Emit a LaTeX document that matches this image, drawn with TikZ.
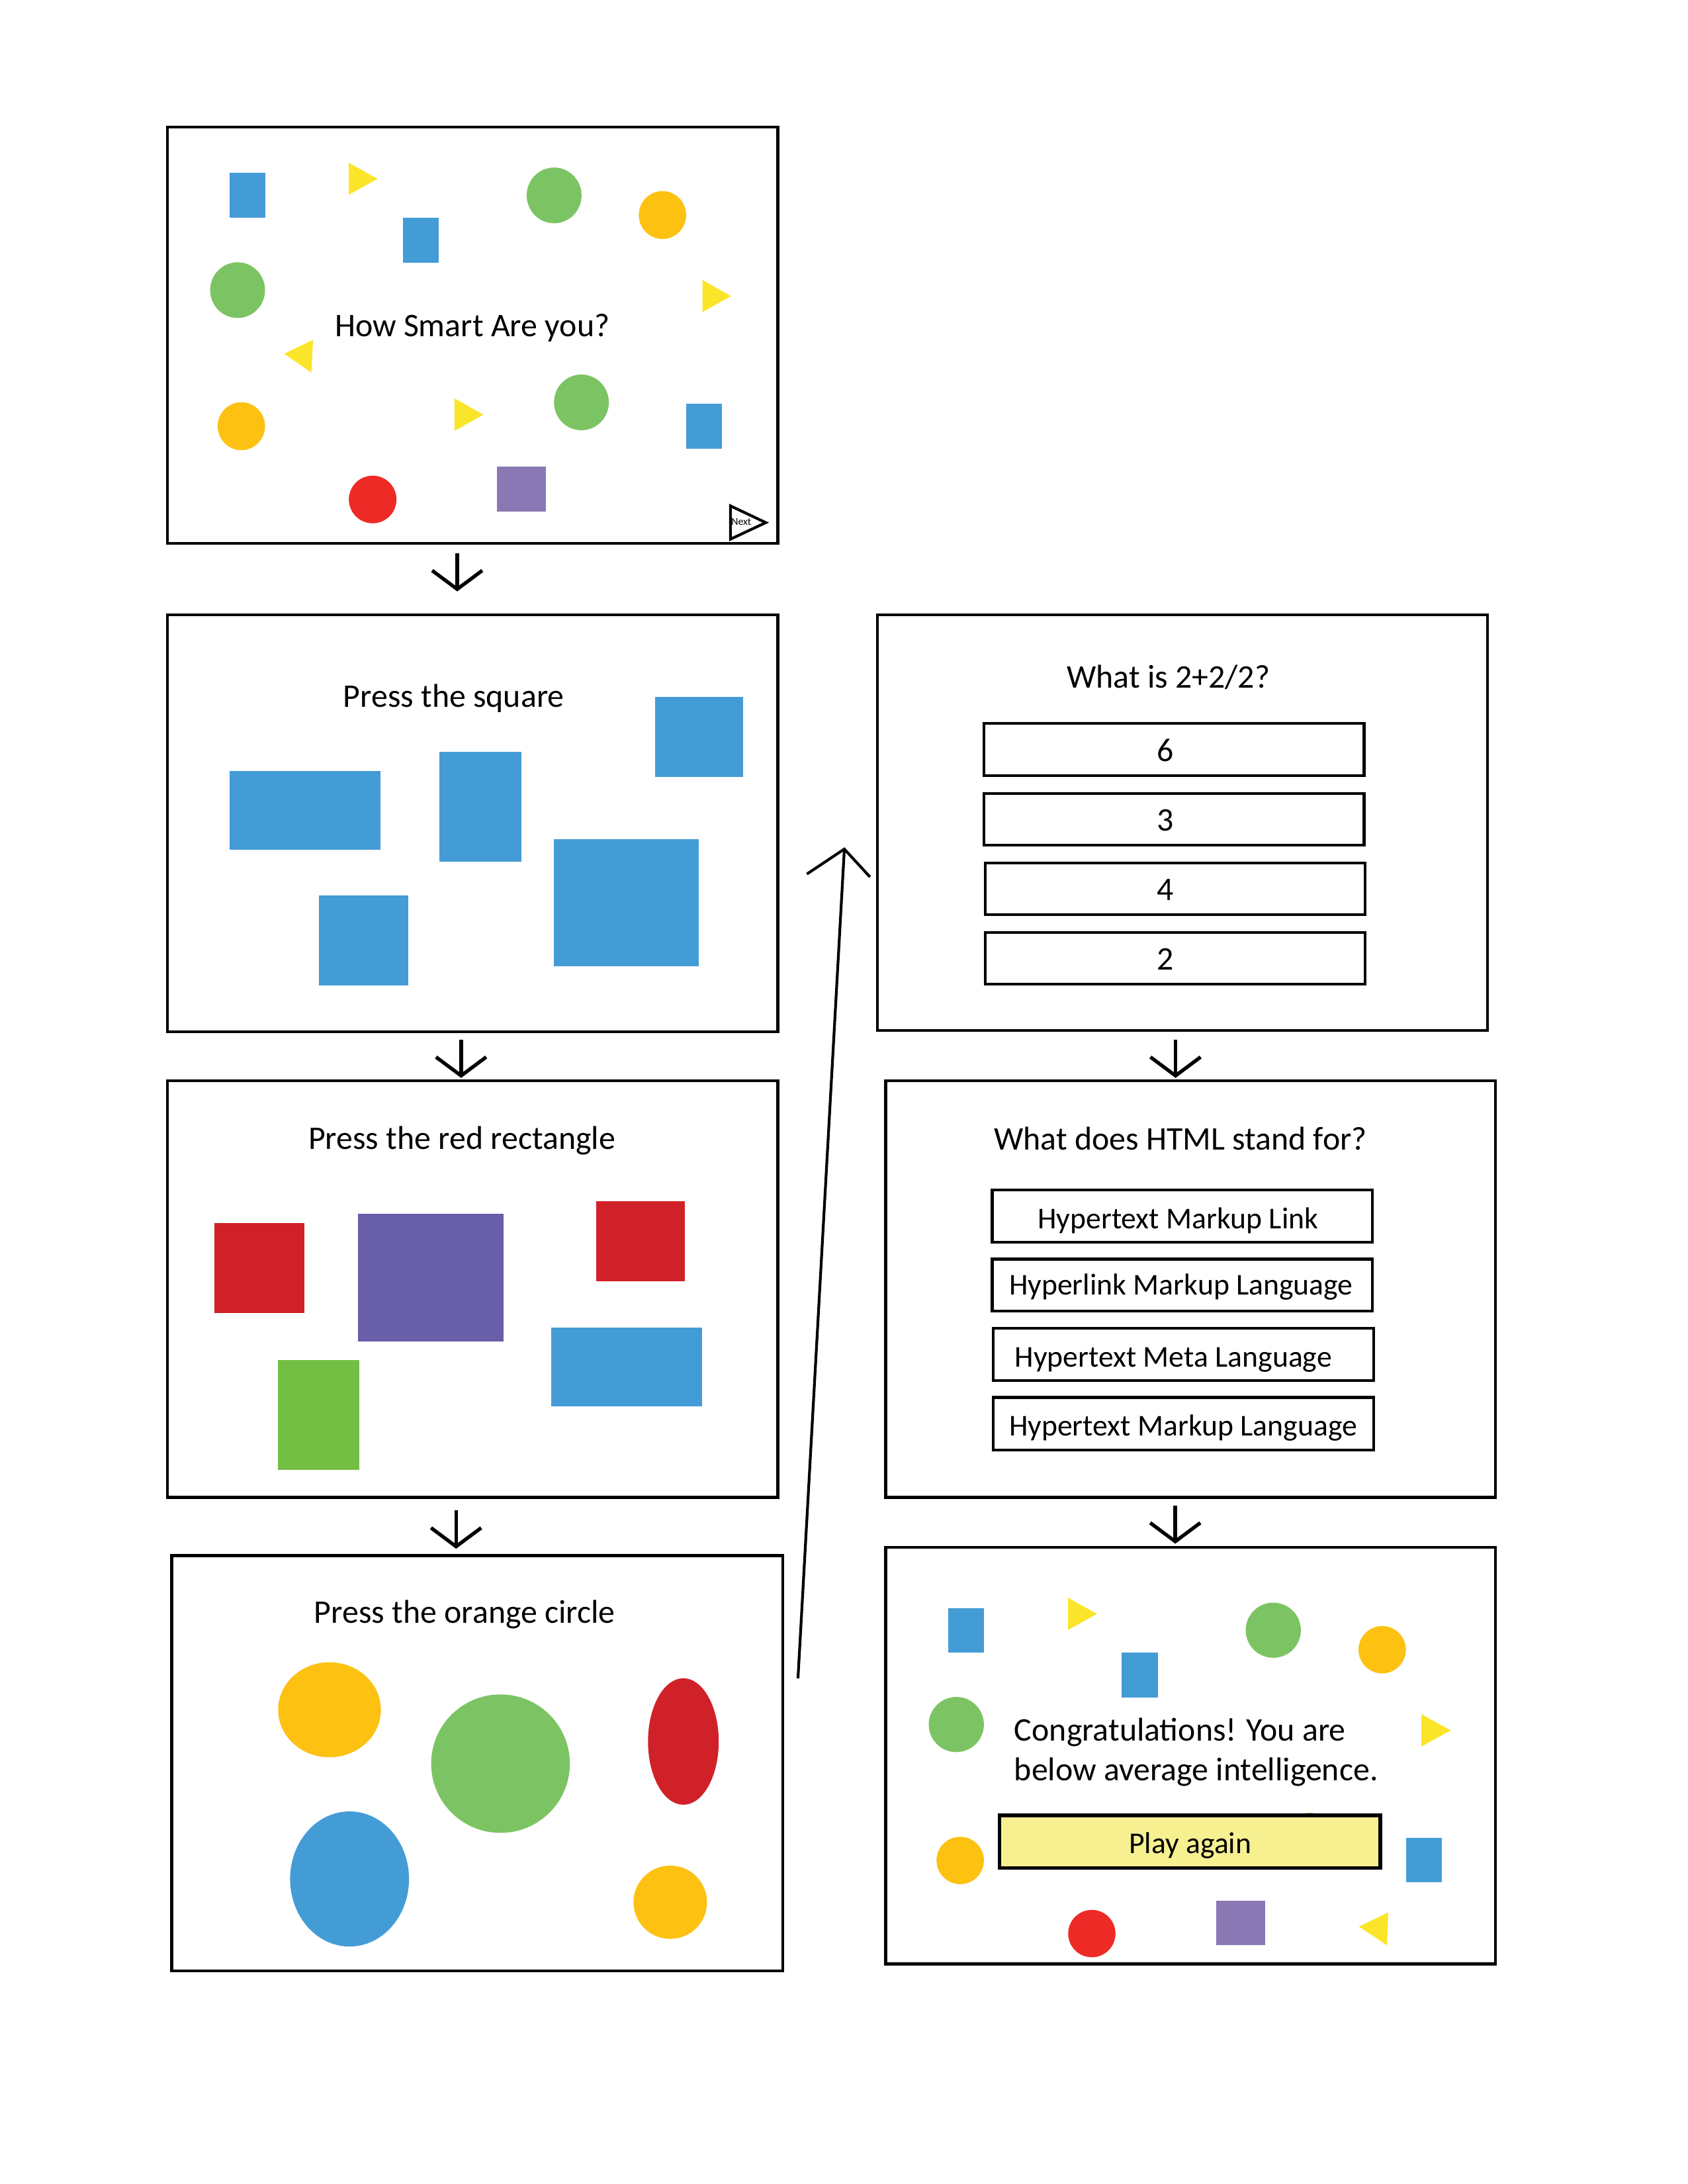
\documentclass[tikz,border=0pt]{standalone}
\usepackage{fontspec}
\setmainfont{Carlito}
\usetikzlibrary{fit}
\definecolor{cblue}{HTML}{449CD6}
\definecolor{cgreen}{HTML}{7CC463}
\definecolor{cgreenrect}{HTML}{72BF44}
\definecolor{corange}{HTML}{FDC112}
\definecolor{cyellow}{HTML}{FAE52A}
\definecolor{cred}{HTML}{EE2A26}
\definecolor{cdred}{HTML}{D12128}
\definecolor{cpurple}{HTML}{8A78B5}
\definecolor{cdpurple}{HTML}{695EA8}
\definecolor{cplay}{HTML}{F7F091}
\begin{document}
\begin{tikzpicture}[x=0.017813cm,y=-0.017813cm,
  panel/.style={draw=black, line width=1pt, inner sep=0pt, fill=white},
  ansbox/.style={draw=black, line width=1pt, inner sep=0pt},
  title/.style={anchor=base, inner sep=0pt, font=\fontsize{12}{14}\selectfont},
  ans/.style={anchor=base, inner sep=0pt, font=\fontsize{12}{14}\selectfont},
  ansl/.style={anchor=base west, inner sep=0pt, font=\fontsize{11}{13}\selectfont},
  flow/.style={draw=black, line width=1pt},
  downflow/.style={draw=black, line width=1.3pt}]
\useasboundingbox[fill=white] (0,0) rectangle (1212,1568);

% ---------- panels ----------
\node[panel, fit={(120.4,91.2) (558.5,390)}] (p1) {};
\node[panel, fit={(120.4,441.6) (558.5,740.6)}] (p2) {};
\node[panel, fit={(120.4,776) (558.5,1075)}] (p3) {};
\node[panel, fit={(123.3,1116.8) (562,1415)}] (p4) {};
\node[panel, fit={(630,441.4) (1068,740)}] (p5) {};
\node[panel, fit={(636,776) (1074,1075)}] (p6) {};
\node[panel, fit={(636,1111) (1074,1410)}] (p7) {};

% ---------- panel 1 ----------
\fill[cblue] (165.0,124) rectangle (190.6,156.3);
\fill[cyellow] (250.5,116.9) -- (271.1,128.4) -- (250.5,139.8) -- cycle;
\fill[cblue] (289.2,156.5) rectangle (314.9,188.7);
\fill[cgreen] (397.9,140.3) ellipse [x radius=19.7, y radius=20];
\fill[corange] (475.7,154.4) ellipse [x radius=17, y radius=17.2];
\fill[cgreen] (170.6,208.3) ellipse [x radius=19.7, y radius=20];
\fill[cyellow] (504.4,201) -- (524.9,212.6) -- (504.4,224.1) -- cycle;
\node[title] (t1) at (339.1,241.4) {How Smart Are you?};
\fill[cyellow] (204.1,254) -- (224.8,244) -- (223.6,267.5) -- cycle;
\fill[corange] (173.3,306) ellipse [x radius=17, y radius=17.2];
\fill[cyellow] (326.4,286) -- (347.1,297.7) -- (326.4,309.3) -- cycle;
\fill[cgreen] (417.5,288.9) ellipse [x radius=19.7, y radius=20];
\fill[cblue] (492.7,290) rectangle (518.3,322.2);
\fill[cred] (267.6,358.6) ellipse [x radius=17.1, y radius=17.1];
\fill[cpurple] (356.9,335.1) rectangle (392,367.2);
\draw[line width=1pt] (524.5,363.2) -- (549.9,375.2) -- (524.5,387.1) -- cycle;
\node[anchor=base, inner sep=0pt, font=\fontsize{3.8}{4}\selectfont] (nextlbl) at (532.3,376.9) {Next};

% ---------- panel 2 ----------
\node[title] (t2) at (325.8,507.5) {Press the square};
\fill[cblue] (470.3,500.5) rectangle (533.8,557.8);
\fill[cblue] (165,553.7) rectangle (273.4,610);
\fill[cblue] (315.7,539.9) rectangle (374.4,618.5);
\fill[cblue] (397.8,602.6) rectangle (501.9,693.8);
\fill[cblue] (228.9,643.1) rectangle (293.3,707.6);

% ---------- panel 3 ----------
\node[title] (t3) at (331.7,825) {Press the red rectangle};
\fill[cdred] (154,878.1) rectangle (218.5,942.5);
\fill[cdpurple] (257.1,871.3) rectangle (361.5,962.9);
\fill[cdred] (428,862.6) rectangle (491.8,920.1);
\fill[cblue] (395.7,953.1) rectangle (504.2,1009.6);
\fill[cgreenrect] (199.5,976.6) rectangle (257.9,1055.5);

% ---------- panel 4 ----------
\node[title] (t4) at (333.7,1165.3) {Press the orange circle};
\fill[corange] (236.6,1227.5) ellipse [x radius=36.9, y radius=34.1];
\fill[cgreen] (359.4,1266.2) ellipse [x radius=49.8, y radius=49.7];
\fill[cdred] (490.7,1250.3) ellipse [x radius=25.4, y radius=45.4];
\fill[cblue] (251,1349) ellipse [x radius=42.7, y radius=48.5];
\fill[corange] (481.3,1365.7) ellipse [x radius=26.4, y radius=26.3];

% ---------- panel 5 ----------
\node[title] (t5) at (839,493.9) {What is 2+2/2?};
\node[ansbox, fit={(706.7,519.5) (979.5,556.8)}] (q1a) {};
\node[ansbox, fit={(706.7,569.6) (979.5,606.9)}] (q1b) {};
\node[ansbox, fit={(707.5,619.5) (980.3,656.8)}] (q1c) {};
\node[ansbox, fit={(707.5,669.4) (980.3,706.7)}] (q1d) {};
\node[ans] (n6) at (837,546.5) {6};
\node[ans] (n3) at (837,596.5) {3};
\node[ans] (n4) at (837,646.4) {4};
\node[ans] (n2) at (837,696.2) {2};

% ---------- panel 6 ----------
\node[title] (t6) at (847.7,825.6) {What does HTML stand for?};
\node[ansbox, fit={(712.5,854.3) (985.5,891.9)}] (q2a) {};
\node[ansbox, fit={(712.5,904) (985.5,941.4)}] (q2b) {};
\node[ansbox, fit={(713.3,953.7) (986.3,991)}] (q2c) {};
\node[ansbox, fit={(713.3,1003.3) (986.3,1040.9)}] (q2d) {};
\node[ansl] (h1) at (744.7,882) {Hypertext Markup Link};
\node[ansl] (h2) at (724.2,929.7) {Hyperlink Markup Language};
\node[ansl] (h3) at (728.3,981.3) {Hypertext Meta Language};
\node[ansl] (h4) at (724.2,1030.8) {Hypertext Markup Language};

% ---------- panel 7 ----------
\fill[cblue] (681.1,1154.4) rectangle (706.7,1186.4);
\fill[cyellow] (766.9,1147.1) -- (787.7,1158.7) -- (766.9,1170.2) -- cycle;
\fill[cblue] (805.5,1186.4) rectangle (831.5,1218.7);
\fill[cgreen] (914.3,1170.4) ellipse [x radius=19.8, y radius=19.8];
\fill[corange] (992.5,1184.4) ellipse [x radius=17, y radius=17];
\fill[cgreen] (686.7,1238.1) ellipse [x radius=19.8, y radius=19.8];
\fill[cyellow] (1020.7,1230.7) -- (1041.7,1242.3) -- (1020.7,1253.9) -- cycle;
\node[anchor=base west, inner sep=0pt, font=\fontsize{12}{14}\selectfont] (c1) at (728,1250) {Congratulations! You are};
\node[anchor=base west, inner sep=0pt, font=\fontsize{12}{14}\selectfont] (c2) at (728,1278.4) {below average intelligence.};
\fill[cgreen] (940.4,1321.7) ellipse [x radius=19.8, y radius=20.2];
\node[draw=black, fill=cplay, line width=1.4pt, inner sep=0pt, fit={(717.7,1303.4) (991,1341.1)}] (play) {};
\node[anchor=base, inner sep=0pt, font=\fontsize{11}{13}\selectfont] (playlbl) at (854.7,1330.7) {Play again};
\fill[corange] (689.5,1335.7) ellipse [x radius=17, y radius=17];
\fill[cblue] (1009.5,1319.7) rectangle (1035.1,1351.5);
\fill[cred] (784,1388.2) ellipse [x radius=17, y radius=17];
\fill[cpurple] (873.2,1364.5) rectangle (908.7,1396.6);
\fill[cyellow] (975.8,1383.2) -- (996.8,1373) -- (996,1396.6) -- cycle;

% ---------- connectors ----------
\coordinate (a1s) at (328.3,397.3);  \coordinate (a1e) at (328.3,423);
\coordinate (a2s) at (331.1,746.5);  \coordinate (a2e) at (331.1,772.3);
\coordinate (a3s) at (327.5,1084.5); \coordinate (a3e) at (327.5,1110.3);
\coordinate (a5s) at (844.1,746.5);  \coordinate (a5e) at (844.1,772.3);
\coordinate (a6s) at (843.9,1081);   \coordinate (a6e) at (843.9,1106.7);
\foreach \s/\e in {a1s/a1e, a2s/a2e, a3s/a3e, a5s/a5e, a6s/a6e}{
  \draw[downflow] (\s) -- (\e);
  \draw[downflow] (\e) ++(-18,-13.4) -- (\e) -- ++(18,-13.4);
}
\coordinate (lb) at (573,1205);
\coordinate (lt) at (606.3,609.6);
\draw[flow] (lb) -- (lt);
\draw[flow] (lt) ++(-26.9,17.9) -- (lt) -- ++(18.4,20);
\end{tikzpicture}
\end{document}
